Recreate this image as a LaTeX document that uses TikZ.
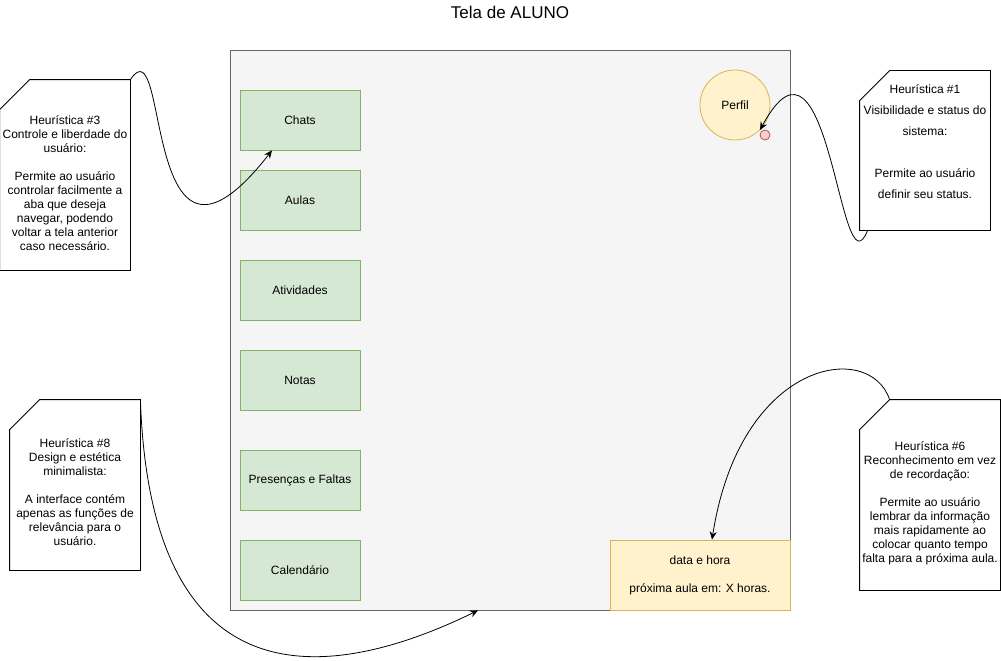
\documentclass[tikz,border=0pt]{standalone}
\usepackage{fontspec}
\setmainfont{Liberation Sans}
\usetikzlibrary{arrows.meta,positioning}

\definecolor{telaborda}{HTML}{666666}
\definecolor{telafundo}{HTML}{F5F5F5}
\definecolor{ababorda}{HTML}{82B366}
\definecolor{abafundo}{HTML}{D5E8D4}
\definecolor{amareloborda}{HTML}{D6B656}
\definecolor{amarelofundo}{HTML}{FFF2CC}
\definecolor{vermelhoborda}{HTML}{B85450}
\definecolor{vermelhofundo}{HTML}{F8CECC}

\tikzset{%
    titulo/.style={%
        font=\fontsize{17}{20}\selectfont
    },
    tela/.style={%
        draw=telaborda, fill=telafundo, minimum width=560pt, minimum height=560pt
    },
    aba/.style={%
        rectangle, draw=ababorda, fill=abafundo, minimum width=120pt, minimum height=60pt, text centered
    },
    perfil/.style={%
        circle, draw=amareloborda, fill=amarelofundo, minimum size=70pt
    },
    status/.style={%
        circle, draw=vermelhoborda, fill=vermelhofundo, minimum size=10pt, inner sep=0pt
    },
    lembrete/.style={%
        rectangle, draw=amareloborda, fill=amarelofundo, minimum width=180pt, minimum height=70pt, align=center
    },
    nota/.style={%
        rectangle, inner sep=0pt
    },
    notatexto/.style={%
        align=center, font=\fontsize{12}{14}\selectfont
    },
    contorno/.style={%
        draw=black, line join=miter
    },
    seta/.style={%
        -{Stealth[length=8pt,width=7pt]}, line width=0.8pt
    },
}

\begin{document}
\begin{tikzpicture}[x=1pt, y=-1pt, line width=0.8pt, every node/.append style={font=\fontsize{12}{14}\selectfont}]

    \useasboundingbox (0,0) rectangle (1001,661);

    \node[titulo] (titulo) at (510,12) {Tela de ALUNO};

    \node[tela] (tela) at (510,330) {};

    % abas do aluno
    \node[aba] (chats) at (300,120) {Chats};
    \node[aba] (aulas) at (300,200) {Aulas};
    \node[aba] (atividades) at (300,290) {Atividades};
    \node[aba] (notas) at (300,380) {Notas};
    \node[aba] (presencas) at (300,480) {Presenças e Faltas};
    \node[aba] (calendario) at (300,570) {Calendário};

    \node[perfil] (perfil) at (735,105) {Perfil};
    \node[status] (status) at (765,135) {};

    \node[lembrete] (datahora) at (700,575) {data e hora\\[14pt]próxima aula em: X horas.};

    % heuristicas
    \node[nota, minimum width=130pt, minimum height=190pt,
      label={[notatexto, yshift=-8pt]center:{Heurística \#3\\Controle e liberdade do\\usuário:\\[14pt]Permite ao usuário\\controlar facilmente a\\aba que deseja\\navegar, podendo\\voltar a tela anterior\\caso necessário.}}] (h3) at (65,175) {};

    \node[nota, minimum width=130pt, minimum height=159pt,
      label={[notatexto, font=\fontsize{12}{21}\selectfont, yshift=9pt]center:{Heurística \#1\\Visibilidade e status do\\sistema:\\[21pt]Permite ao usuário\\definir seu status.}}] (h1) at (925,150.5) {};

    \node[nota, minimum width=130pt, minimum height=170pt,
      label={[notatexto, yshift=-7pt]center:{Heurística \#8\\Design e estética\\minimalista:\\[14pt]A interface contém\\apenas as funções de\\relevância para o\\usuário.}}] (h8) at (75,485) {};

    \node[nota, minimum width=140pt, minimum height=190pt,
      label={[notatexto, yshift=-8pt]center:{Heurística \#6\\Reconhecimento em vez\\de recordação:\\[14pt]Permite ao usuário\\lembrar da informação\\mais rapidamente ao\\colocar quanto tempo\\falta para a próxima aula.}}] (h6) at (930,495) {};

    \foreach \n in {h3,h1,h8,h6}
      \draw[contorno] (\n.south west) -- ([yshift=-30pt]\n.north west) -- ([xshift=30pt]\n.north west) -- (\n.north east) -- (\n.south east) -- cycle;

    % setas
    \draw[seta] (h3.north east) .. controls +(40,-60) and +(-132,169) .. ([xshift=-28pt]chats.south);
    \draw[seta] ([xshift=8pt]h1.south west) .. controls +(-28,70) and +(70,-130) .. (perfil.south east);
    \draw[seta] ([xshift=30pt]h6.north west) .. controls +(-20,-60) and +(28,-180) .. ([xshift=12pt]datahora.north);
    \draw[seta] (h8.north east) .. controls +(10,295) and +(-160,78) .. ([xshift=-32pt]tela.south);

\end{tikzpicture}
\end{document}
